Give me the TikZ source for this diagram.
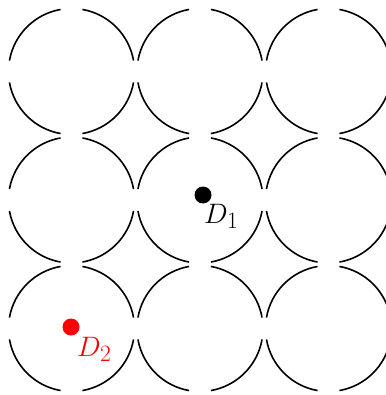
\documentclass[tikz,border=0pt]{standalone}
\begin{document}
\begin{tikzpicture}[x=1pt,y=1pt]
  % Parámetros: radio, separación entre centros y hueco angular (grados)
  \def\r{63}
  \def\sep{128.5}
  \def\hueco{10}

  % Marco fijo de la figura
  \useasboundingbox (0,0) rectangle (385,-395);

  % Malla 3x3 de círculos, cada uno partido en cuatro arcos
  \foreach \i in {0,1,2}{
    \foreach \j in {0,1,2}{
      \pgfmathsetmacro{\cx}{71.5+\sep*\i}
      \pgfmathsetmacro{\cy}{-71.5-\sep*\j}
      \foreach \a in {0,90,180,270}{
        \draw[line width=1.6pt] ([shift={(\a+\hueco:\r)}]\cx,\cy)
          arc[start angle=\a+\hueco, end angle=\a+90-\hueco, radius=\r];
      }
    }
  }

  % Punto D_1
  \coordinate (d1) at (203,-195);
  \fill (d1) circle (8.5);
  \node[anchor=north west, inner sep=0pt, font=\Huge, scale=1.13]
    (d1lbl) at (204,-204) {$D_1$};

  % Punto D_2 (en rojo)
  \coordinate (d2) at (71,-327);
  \fill[red] (d2) circle (8.5);
  \node[anchor=north west, inner sep=0pt, text=red, font=\Huge, scale=1.13]
    (d2lbl) at (77,-337) {$D_2$};
\end{tikzpicture}
\end{document}
